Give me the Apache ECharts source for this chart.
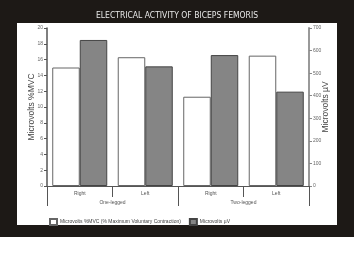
<!DOCTYPE html>
<html>
<head>
<meta charset="utf-8">
<script src="https://cdn.jsdelivr.net/npm/echarts@6/dist/echarts.min.js"></script>
<style>html,body{margin:0;padding:0;background:#fff;}#c{width:354px;height:264px;}</style>
</head>
<body>
<div id="c"></div>
<script>
var titleText = 'ELECTRICAL ACTIVITY OF BICEPS FEMORIS';
var categories = ['Right', 'Left', 'Right', 'Left'];
var groups = ['One-legged', 'Two-legged'];
var mvcValues = [15.0, 16.3, 11.3, 16.5];
var uvValues = [647, 530, 580, 418];
var seriesNames = ['Microvolts %MVC (% Maximum Voluntary Contraction)', 'Microvolts \u00b5V'];
var leftAxisName = 'Microvolts %MVC';
var rightAxisName = 'Microvolts \u00b5V';

var chart = echarts.init(document.getElementById('c'), null, {renderer: 'canvas'});
var font = 'Liberation Sans, Arial, sans-serif';
var option = {
  backgroundColor: '#ffffff',
  animation: false,
  graphic: [
    {type: 'rect', z: -10, shape: {x: 0, y: 0, width: 354, height: 237}, style: {fill: '#1d1916'}},
    {type: 'rect', z: -9, shape: {x: 17, y: 23, width: 320, height: 202}, style: {fill: '#ffffff'}}
  ],
  title: {
    text: titleText, left: 'center', top: 6,
    textStyle: {color: '#e8e8e8', fontSize: 8.5, fontWeight: 'normal', fontFamily: 'DejaVu Sans Condensed, Liberation Sans Narrow, sans-serif'}
  },
  legend: {
    left: 44, top: 213, itemWidth: 7, itemHeight: 6, itemGap: 8, icon: 'rect',
    textStyle: {fontSize: 5, color: '#444', fontFamily: font, padding: [0, 0, 0, -2]},
    data: seriesNames
  },
  grid: {left: 47, right: 45, top: 28, bottom: 78},
  xAxis: [
    {
      type: 'category', data: categories, position: 'bottom',
      axisLine: {lineStyle: {color: '#555', width: 1}},
      axisTick: {show: true, length: 11, lineStyle: {color: '#555'}},
      axisLabel: {fontSize: 5, color: '#555', margin: 5, fontFamily: font}
    },
    {
      type: 'category', data: groups, position: 'bottom',
      axisLine: {show: false},
      axisTick: {show: true, length: 20, lineStyle: {color: '#555'}},
      axisLabel: {fontSize: 5, color: '#555', margin: 14, fontFamily: font}
    }
  ],
  yAxis: [
    {
      type: 'value', min: 0, max: 20, interval: 2, position: 'left',
      name: leftAxisName, nameLocation: 'middle', nameGap: 11, nameRotate: 90, nameMoveOverlap: false,
      nameTextStyle: {fontSize: 8.5, color: '#444', fontFamily: font},
      axisLine: {show: true, lineStyle: {color: '#555', width: 1.5}},
      axisTick: {show: true, length: 3, lineStyle: {color: '#555'}},
      axisLabel: {fontSize: 5, color: '#666', margin: 4, fontFamily: font},
      splitLine: {show: false}
    },
    {
      type: 'value', min: 0, max: 700, interval: 100, position: 'right',
      name: rightAxisName, nameLocation: 'middle', nameGap: 12, nameRotate: 90, nameMoveOverlap: false,
      nameTextStyle: {fontSize: 8.5, color: '#444', fontFamily: font},
      axisLine: {show: true, lineStyle: {color: '#999', width: 2}},
      axisTick: {show: true, length: 3, lineStyle: {color: '#888'}},
      axisLabel: {fontSize: 5, color: '#666', margin: 4, fontFamily: font},
      splitLine: {show: false}
    }
  ],
  series: [
    {
      name: seriesNames[0], type: 'bar', xAxisIndex: 0, yAxisIndex: 0, data: mvcValues,
      barGap: '0%', barCategoryGap: '16%',
      itemStyle: {color: '#ffffff', borderColor: '#666', borderWidth: 1}
    },
    {
      name: seriesNames[1], type: 'bar', xAxisIndex: 0, yAxisIndex: 1, data: uvValues,
      barGap: '0%', barCategoryGap: '16%',
      itemStyle: {color: '#858585', borderColor: '#444', borderWidth: 1}
    }
  ]
};
chart.setOption(option);
</script>
</body>
</html>
